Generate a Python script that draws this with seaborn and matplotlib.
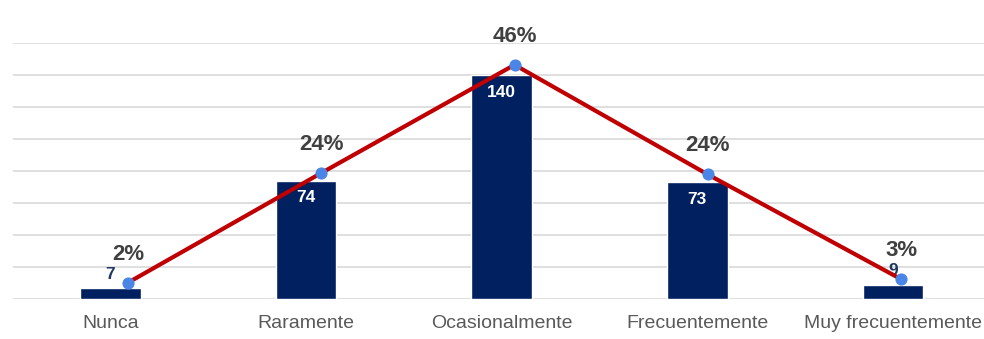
import numpy as np
import pandas as pd
import matplotlib
matplotlib.use("Agg")
import matplotlib.pyplot as plt
import seaborn as sns

# Frecuencia de respuestas por categoría
categorias = ["Nunca", "Raramente", "Ocasionalmente", "Frecuentemente", "Muy frecuentemente"]
frecuencias = [7, 74, 140, 73, 9]
porcentajes = [2.3, 24.4, 46.2, 24.1, 3.0]

COLOR_BARRA = "#002060"
COLOR_LINEA = "#C00000"
COLOR_PUNTO = "#4A86E8"
COLOR_PCT = "#404040"
COLOR_EJE = "#595959"
COLOR_REJILLA = "#D9D9D9"

sns.set_style("white")
plt.rcParams["font.family"] = ["Liberation Sans", "DejaVu Sans"]

W, H, DPI = 984, 339, 100
fig = plt.figure(figsize=(W / DPI, H / DPI), dpi=DPI)

# area de trazado en pixeles
left_px, right_px, top_px, bottom_px = 12.7, 990.7, 43.0, 299.0
rect = [left_px / W, (H - bottom_px) / H, (right_px - left_px) / W, (bottom_px - top_px) / H]

ax = fig.add_axes(rect)
df = pd.DataFrame({"categoria": categorias, "frecuencia": frecuencias})
sns.barplot(data=df, x="categoria", y="frecuencia", color=COLOR_BARRA,
            saturation=1, width=0.31, ax=ax, zorder=2)
ax.set_xlim(-0.5, 4.5)
ax.set_ylim(0, 160)
ax.set_yticks(np.arange(0, 161, 20))
ax.set_yticklabels([])
ax.grid(axis="y", color=COLOR_REJILLA, linewidth=1.2, zorder=0)
ax.set_axisbelow(True)
for s in ax.spines.values():
    s.set_visible(False)
ax.set_xlabel("")
ax.set_ylabel("")
ax.tick_params(axis="x", length=0, pad=11.5, labelsize=14, labelcolor=COLOR_EJE)
ax.tick_params(axis="y", length=0)

# etiquetas de valor de las barras
for i, v in enumerate(frecuencias):
    if v < 20:
        ax.annotate(str(v), (i, v), xytext=(0, 4.5), textcoords="offset points",
                    ha="center", va="bottom", fontsize=12.5, fontweight="bold",
                    color="#1F3864", zorder=3)
    else:
        ax.annotate(str(v), (i, v), xytext=(0, -7), textcoords="offset points",
                    ha="center", va="top", fontsize=12.5, fontweight="bold",
                    color="white", zorder=3)

# linea de porcentajes sobre un eje propio
ax2 = fig.add_axes(rect)
ax2.patch.set_alpha(0)
sns.lineplot(x=np.arange(len(porcentajes)), y=porcentajes, ax=ax2,
             color=COLOR_LINEA, linewidth=3, marker="o", markersize=8,
             markerfacecolor=COLOR_PUNTO, markeredgecolor=COLOR_PUNTO,
             zorder=4)
ax2.set_xlim(-0.597, 4.464)
ax2.set_ylim(-1.0, 50.6)
ax2.axis("off")
for i, p in enumerate(porcentajes):
    ax2.annotate(f"{p:.0f}%", (i, p), xytext=(0, 13), textcoords="offset points",
                 ha="center", va="bottom", fontsize=16, fontweight="bold",
                 color=COLOR_PCT, annotation_clip=False)

fig.savefig("out.png", dpi=DPI)
